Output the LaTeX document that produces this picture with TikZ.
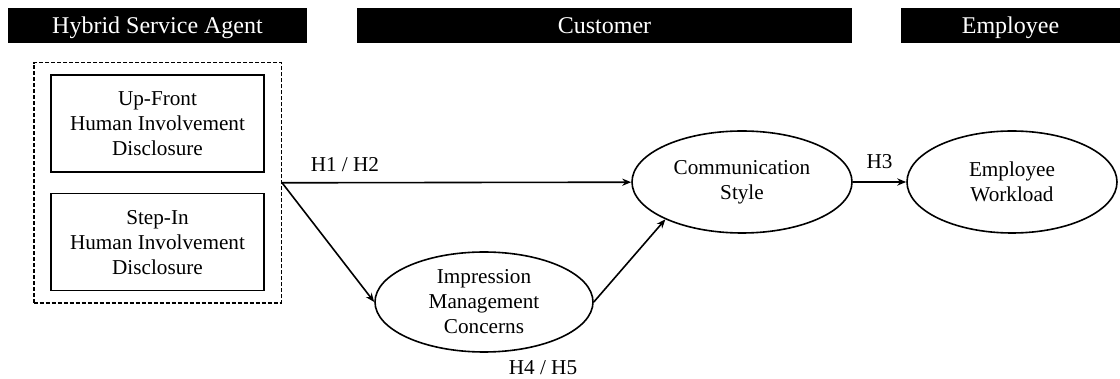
\documentclass[tikz,border=0pt]{standalone}
\usepackage{fontspec}
\setmainfont{Liberation Serif}
\usepackage{tikz}
\usetikzlibrary{shapes.geometric,positioning,arrows.meta,fit}

\begin{document}
\begin{tikzpicture}[
x=1pt,y=1pt,
bar/.style={fill=black,text=white,inner sep=0pt,minimum height=17.5pt,text height=11pt,text depth=2.5pt,font=\fontsize{12}{14}\selectfont},
disc/.style={draw,line width=0.8pt,align=center,minimum width=106.5pt,minimum height=48.5pt,inner sep=0pt,font=\fontsize{10.6}{12.5}\selectfont},
construct/.style={draw,ellipse,line width=0.8pt,align=center,inner sep=0pt,minimum height=51pt,font=\fontsize{10.6}{12.5}\selectfont},
hyp/.style={inner sep=2pt,font=\fontsize{10.6}{12.5}\selectfont},
>={Stealth[length=4.5pt,width=3.6pt]}
]
\useasboundingbox (0,0) rectangle (560,-189.5);

% header bars
\node[bar,minimum width=149.5pt] (hsa) at (78.75,-12.75) {Hybrid Service Agent};
\node[bar,minimum width=247.5pt] (cust) at (302.25,-12.75) {Customer};
\node[bar,minimum width=109.5pt] (empl) at (505.25,-12.75) {Employee};

% disclosure boxes
\node[disc] (up) at (78.75,-61.75) {Up-Front\\Human Involvement\\Disclosure};
\node[disc,below=10pt of up] (stepin) {Step-In\\Human Involvement\\Disclosure};
\node[draw,line width=0.8pt,dash pattern=on 2pt off 1pt,inner xsep=8.25pt,inner ysep=5.75pt,fit=(up)(stepin)] (grp) {};

% constructs
\node[construct,minimum width=110pt] (cs) at (371,-91) {Communication\\Style};
\node[construct,minimum width=105pt] (ew) at (506,-91) {Employee\\Workload};
\node[construct,minimum width=109pt,minimum height=50pt] (im) at (242,-151) {Impression\\Management\\Concerns};

% paths
\draw[->,line width=0.8pt] (grp.east) -- node[hyp,pos=0.18,above=3pt] {H1 / H2} (cs);
\draw[->,line width=0.8pt] (grp.east) -- (im.west);
\draw[->,line width=0.8pt] (im.east) -- (cs.206);
\draw[->,line width=0.8pt] (cs.east) -- node[hyp,above=4pt] {H3} (ew.west);
\node[hyp] (h45) at ([xshift=29.5pt,yshift=-7.5pt]im.south) {H4 / H5};

\end{tikzpicture}
\end{document}
